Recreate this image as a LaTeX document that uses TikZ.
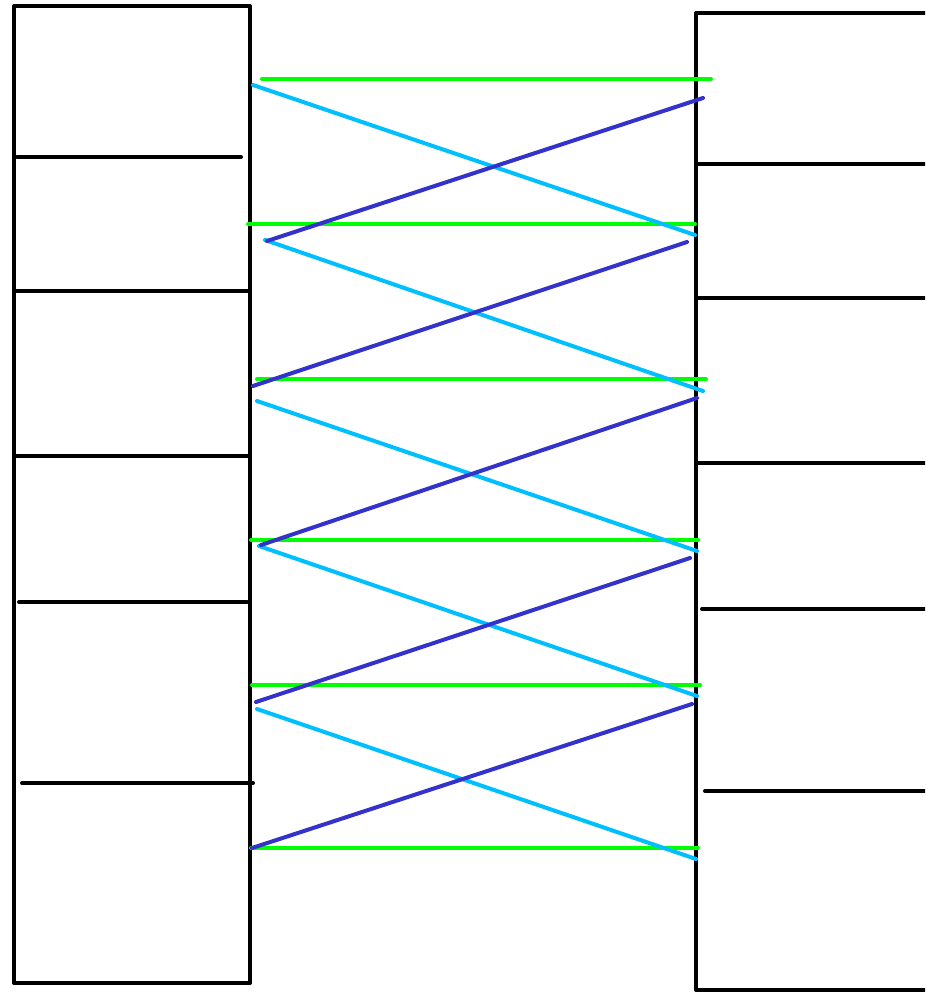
\documentclass[tikz,border=0pt]{standalone}
\definecolor{lgreen}{HTML}{00FF00}
\definecolor{lblue}{HTML}{00BFFF}
\definecolor{dblue}{HTML}{3333CC}
\begin{document}
\begin{tikzpicture}[x=0.75pt,y=-0.75pt,
  blk/.style={draw=black,line width=3pt,line cap=round,line join=round},
  grn/.style={draw=lgreen,line width=3pt,line cap=round},
  lbl/.style={draw=lblue,line width=3pt,line cap=round},
  dbl/.style={draw=dblue,line width=3pt,line cap=round}]
\useasboundingbox (0,0) rectangle (925,992);
\clip (0,0) rectangle (925,992);
% left box
\draw[blk] (14,6) rectangle (250,983);
\draw[blk] (17,157) -- (241,157);
\draw[blk] (14,291) -- (250,291);
\draw[blk] (14,456) -- (250,456);
\draw[blk] (19,602) -- (247,602);
\draw[blk] (22,783) -- (253,783);
% right box
\draw[blk] (940,13) -- (696,13) -- (696,990) -- (940,990);
\draw[blk] (698,164) -- (940,164);
\draw[blk] (696,298) -- (940,298);
\draw[blk] (696,463) -- (940,463);
\draw[blk] (702,609) -- (940,609);
\draw[blk] (705,791) -- (940,791);
% green
\draw[grn] (262,79) -- (711,79);
\draw[grn] (248,224) -- (695,224);
\draw[grn] (257,379) -- (706,379);
\draw[grn] (251,540) -- (698,540);
\draw[grn] (252,685) -- (700,685);
\draw[grn] (251,848) -- (698,848);
% light blue
\draw[lbl] (253,85) -- (695,235);
\draw[lbl] (265,240) -- (703,391);
\draw[lbl] (257,401) -- (697,551);
\draw[lbl] (259,546) -- (697,696);
\draw[lbl] (257,709) -- (696,859);
% dark blue
\draw[dbl] (703,98) -- (267,241);
\draw[dbl] (687,242) -- (253,386);
\draw[dbl] (697,398) -- (261,545);
\draw[dbl] (690,558) -- (256,702);
\draw[dbl] (692,704) -- (252,848);
\end{tikzpicture}
\end{document}
